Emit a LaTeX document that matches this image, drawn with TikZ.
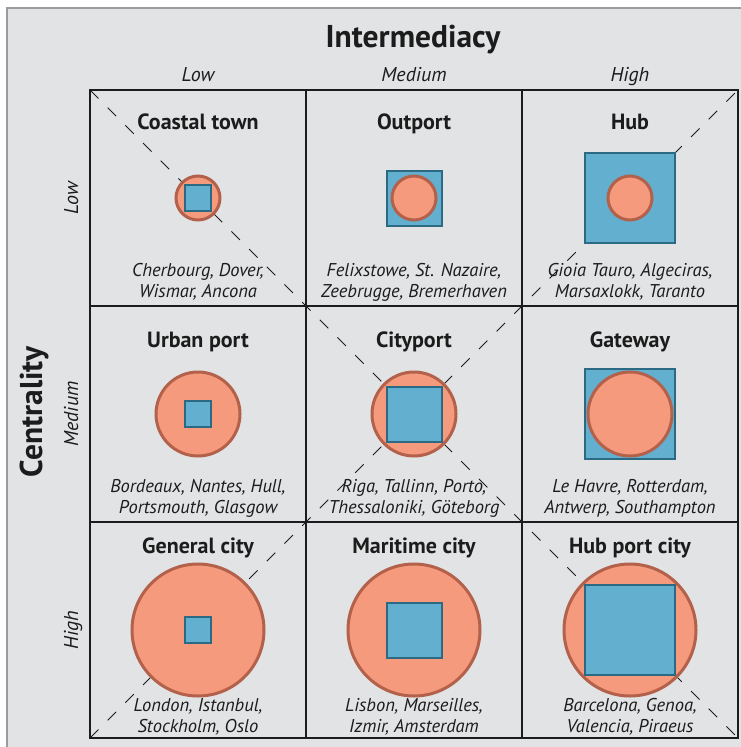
\documentclass[tikz,border=0pt]{standalone}
\usepackage{fontspec}
\setmainfont{PT Sans}
\usetikzlibrary{positioning}
\definecolor{panel}{HTML}{E2E3E5}
\definecolor{rim}{HTML}{9C9C9C}
\definecolor{ink}{HTML}{1C1C1C}
\definecolor{cityfill}{HTML}{F69A7E}
\definecolor{cityedge}{HTML}{B3614A}
\definecolor{portfill}{HTML}{62AFD0}
\definecolor{portedge}{HTML}{2C6A83}

\begin{document}
\begin{tikzpicture}[x=1pt,y=-1pt,node distance=216pt,on grid,
        cell/.style={rectangle, draw=ink, line width=1.6pt, minimum size=216pt, inner sep=0pt, outer sep=0pt},
        centr/.style={circle, draw=cityedge, fill=cityfill, line width=3pt, inner sep=0pt},
        inter/.style={rectangle, draw=portedge, fill=portfill, line width=2pt, inner sep=0pt},
        diag/.style={draw=ink, line width=0.9pt, dash pattern=on 12pt off 13pt},
        kind/.style={anchor=base, text=ink, font=\bfseries\fontsize{22}{24}\selectfont},
        places/.style={anchor=base, align=center, text=ink, font=\itshape\fontsize{18.5}{21}\selectfont},
        level/.style={anchor=base, text=ink, font=\itshape\fontsize{20}{22}\selectfont},
        axis/.style={anchor=base, text=ink, font=\bfseries\fontsize{31.5}{34}\selectfont}]
        \useasboundingbox (0,0) rectangle (741,747);
        \fill[white] (0,0) rectangle (741,747);
        \fill[panel] (7,8) rectangle (741,747);
        \draw[rim, line width=2pt] (7,747) -- (7,8) -- (741,8);

        % the nine cells
        \node[cell]     (c11)    at (198,198)        {};
        \node[cell]     (c12)    [right=of c11]      {};
        \node[cell]     (c13)    [right=of c12]      {};
        \node[cell]     (c21)    [below=of c11]      {};
        \node[cell]     (c22)    [right=of c21]      {};
        \node[cell]     (c23)    [right=of c22]      {};
        \node[cell]     (c31)    [below=of c21]      {};
        \node[cell]     (c32)    [right=of c31]      {};
        \node[cell]     (c33)    [right=of c32]      {};

        \path[diag] (c11.north west) -- (c33.south east)
        (c31.south west) -- (c13.north east);

        % circles grow with centrality, squares with intermediacy
        \node[centr, minimum size=44pt]     (r11)   at (c11) {};
        \node[inter, minimum size=26pt]     (s11)   at (c11) {};
        \node[inter, minimum size=55pt]     (s12)   at (c12) {};
        \node[centr, minimum size=44pt]     (r12)   at (c12) {};
        \node[inter, minimum size=90pt]     (s13)   at (c13) {};
        \node[centr, minimum size=44pt]     (r13)   at (c13) {};
        \node[centr, minimum size=84pt]     (r21)   at (c21) {};
        \node[inter, minimum size=26pt]     (s21)   at (c21) {};
        \node[centr, minimum size=84pt]     (r22)   at (c22) {};
        \node[inter, minimum size=55pt]     (s22)   at (c22) {};
        \node[inter, minimum size=90pt]     (s23)   at (c23) {};
        \node[centr, minimum size=84pt]     (r23)   at (c23) {};
        \node[centr, minimum size=132pt]    (r31)   at (c31) {};
        \node[inter, minimum size=26pt]     (s31)   at (c31) {};
        \node[centr, minimum size=132pt]    (r32)   at (c32) {};
        \node[inter, minimum size=55pt]     (s32)   at (c32) {};
        \node[centr, minimum size=132pt]    (r33)   at (c33) {};
        \node[inter, minimum size=90pt]     (s33)   at (c33) {};

        \node[kind]     (k11)   at ([yshift=-39pt]c11.north)    {Coastal town};
        \node[kind]     (k12)   at ([yshift=-39pt]c12.north)    {Outport};
        \node[kind]     (k13)   at ([yshift=-39pt]c13.north)    {Hub};
        \node[kind]     (k21)   at ([yshift=-41pt]c21.north)    {Urban port};
        \node[kind]     (k22)   at ([yshift=-41pt]c22.north)    {Cityport};
        \node[kind]     (k23)   at ([yshift=-41pt]c23.north)    {Gateway};
        \node[kind]     (k31)   at ([yshift=-31pt]c31.north)    {General city};
        \node[kind]     (k32)   at ([yshift=-31pt]c32.north)    {Maritime city};
        \node[kind]     (k33)   at ([yshift=-31pt]c33.north)    {Hub port city};

        \node[places]   (p11)   at ([yshift=-207pt]c11.north)   {Cherbourg, Dover,\\Wismar, Ancona};
        \node[places]   (p12)   at ([yshift=-207pt]c12.north)   {Felixstowe, St. Nazaire,\\Zeebrugge, Bremerhaven};
        \node[places]   (p13)   at ([yshift=-207pt]c13.north)   {Gioia Tauro, Algeciras,\\Marsaxlokk, Taranto};
        \node[places]   (p21)   at ([yshift=-207pt]c21.north)   {Bordeaux, Nantes, Hull,\\Portsmouth, Glasgow};
        \node[places]   (p22)   at ([yshift=-207pt]c22.north)   {Riga, Tallinn, Porto,\\Thessaloniki, Göteborg};
        \node[places]   (p23)   at ([yshift=-207pt]c23.north)   {Le Havre, Rotterdam,\\Antwerp, Southampton};
        \node[places]   (p31)   at ([yshift=-210pt]c31.north)   {London, Istanbul,\\Stockholm, Oslo};
        \node[places]   (p32)   at ([yshift=-210pt]c32.north)   {Lisbon, Marseilles,\\Izmir, Amsterdam};
        \node[places]   (p33)   at ([yshift=-210pt]c33.north)   {Barcelona, Genoa,\\Valencia, Piraeus};

        % axes
        \node[axis]     (intermed)  at (413,47)                     {Intermediacy};
        \node[level]    (lowi)      at ([yshift=9pt]c11.north)      {Low};
        \node[level]    (medi)      at ([yshift=9pt]c12.north)      {Medium};
        \node[level]    (highi)     at ([yshift=9pt]c13.north)      {High};
        \node[axis, rotate=90]  (central)   at (42,412)             {Centrality};
        \node[level, rotate=90] (lowc)      at ([xshift=-12pt]c11.west)  {Low};
        \node[level, rotate=90] (medc)      at ([xshift=-12pt]c21.west)  {Medium};
        \node[level, rotate=90] (highc)     at ([xshift=-12pt]c31.west)  {High};
    \end{tikzpicture}
\end{document}
